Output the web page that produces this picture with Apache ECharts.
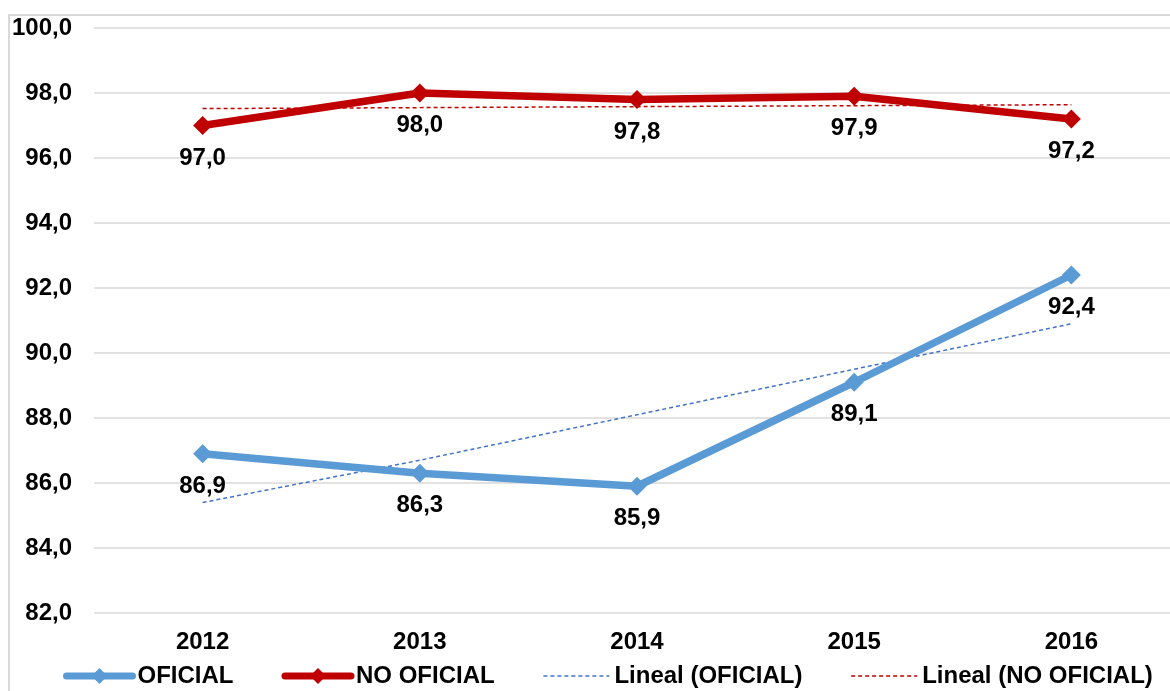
<!DOCTYPE html>
<html>
<head>
<meta charset="utf-8">
<style>
  html, body { margin: 0; padding: 0; background: #fff; overflow: hidden; }
  #main { width: 1190px; height: 691px; }
</style>
<script src="https://cdn.jsdelivr.net/npm/echarts@6/dist/echarts.min.js"></script>
</head>
<body>
<div id="main"></div>
<script>
    var years = ['2012', '2013', '2014', '2015', '2016'];
    var oficial = [86.9, 86.3, 85.9, 89.1, 92.4];
    var noOficial = [97.0, 98.0, 97.8, 97.9, 97.2];
    // trend lines
    var linealOficial = [85.4, 86.7, 88.1, 89.5, 90.9];
    var linealNoOficial = [97.52, 97.55, 97.58, 97.61, 97.64];

    var fmt = function (v) { return v.toFixed(1).replace('.', ','); };
    var font = 'Arial, "Liberation Sans", sans-serif';

    var myChart = echarts.init(document.getElementById('main'));

    var option = {
        backgroundColor: '#FFFFFF',
        animation: false,
        textStyle: { fontFamily: font },
        graphic: [{
            type: 'rect',
            shape: { x: 9, y: 15, width: 1200, height: 720 },
            style: { fill: 'none', stroke: '#d9d9d9', lineWidth: 2 },
            silent: true
        }],
        grid: { left: 94, right: 10, top: 28, bottom: 78 },
        legend: {
            left: 58,
            bottom: -2,
            itemWidth: 66,
            itemHeight: 20,
            itemGap: 48,
            textStyle: { color: '#000', fontSize: 24, fontWeight: 'bold', fontFamily: font },
            data: [
                { name: 'OFICIAL', lineStyle: { width: 7, cap: 'round' } },
                { name: 'NO OFICIAL', lineStyle: { width: 7, cap: 'round' } },
                { name: 'Lineal (OFICIAL)', itemStyle: { opacity: 0 }, lineStyle: { width: 1.5, type: [4, 3] } },
                { name: 'Lineal (NO OFICIAL)', itemStyle: { opacity: 0 }, lineStyle: { width: 1.5, type: [4, 3] } }
            ]
        },
        xAxis: {
            type: 'category',
            data: years,
            axisLine: { show: false },
            axisTick: { show: false },
            axisLabel: { color: '#000', fontSize: 24, fontWeight: 'bold', margin: 17 }
        },
        yAxis: {
            type: 'value',
            min: 82,
            max: 100,
            interval: 2,
            axisLine: { show: false },
            axisTick: { show: false },
            axisLabel: { color: '#000', fontSize: 24, fontWeight: 'bold', margin: 22, formatter: fmt },
            splitLine: { lineStyle: { color: '#d9d9d9', width: 1.5 } }
        },
        series: [
            {
                name: 'OFICIAL',
                type: 'line',
                data: oficial,
                symbol: 'diamond',
                symbolSize: 19,
                color: '#5B9BD5',
                lineStyle: { width: 7.5, color: '#5B9BD5' },
                label: {
                    show: true, position: 'bottom', distance: 11,
                    color: '#000', fontSize: 24, fontWeight: 'bold',
                    formatter: function (p) { return fmt(p.value); }
                },
                z: 3
            },
            {
                name: 'NO OFICIAL',
                type: 'line',
                data: noOficial,
                symbol: 'diamond',
                symbolSize: 19,
                color: '#C00000',
                lineStyle: { width: 7.5, color: '#C00000' },
                label: {
                    show: true, position: 'bottom', distance: 11,
                    color: '#000', fontSize: 24, fontWeight: 'bold',
                    formatter: function (p) { return fmt(p.value); }
                },
                z: 3
            },
            {
                name: 'Lineal (OFICIAL)',
                type: 'line',
                data: linealOficial,
                symbol: 'none',
                color: '#4472C4',
                lineStyle: { width: 1.5, type: [4, 3], color: '#4472C4' },
                z: 2
            },
            {
                name: 'Lineal (NO OFICIAL)',
                type: 'line',
                data: linealNoOficial,
                symbol: 'none',
                color: '#C00000',
                lineStyle: { width: 1.5, type: [4, 3], color: '#C00000' },
                z: 2
            }
        ]
    };

    myChart.setOption(option);
</script>
</body>
</html>
